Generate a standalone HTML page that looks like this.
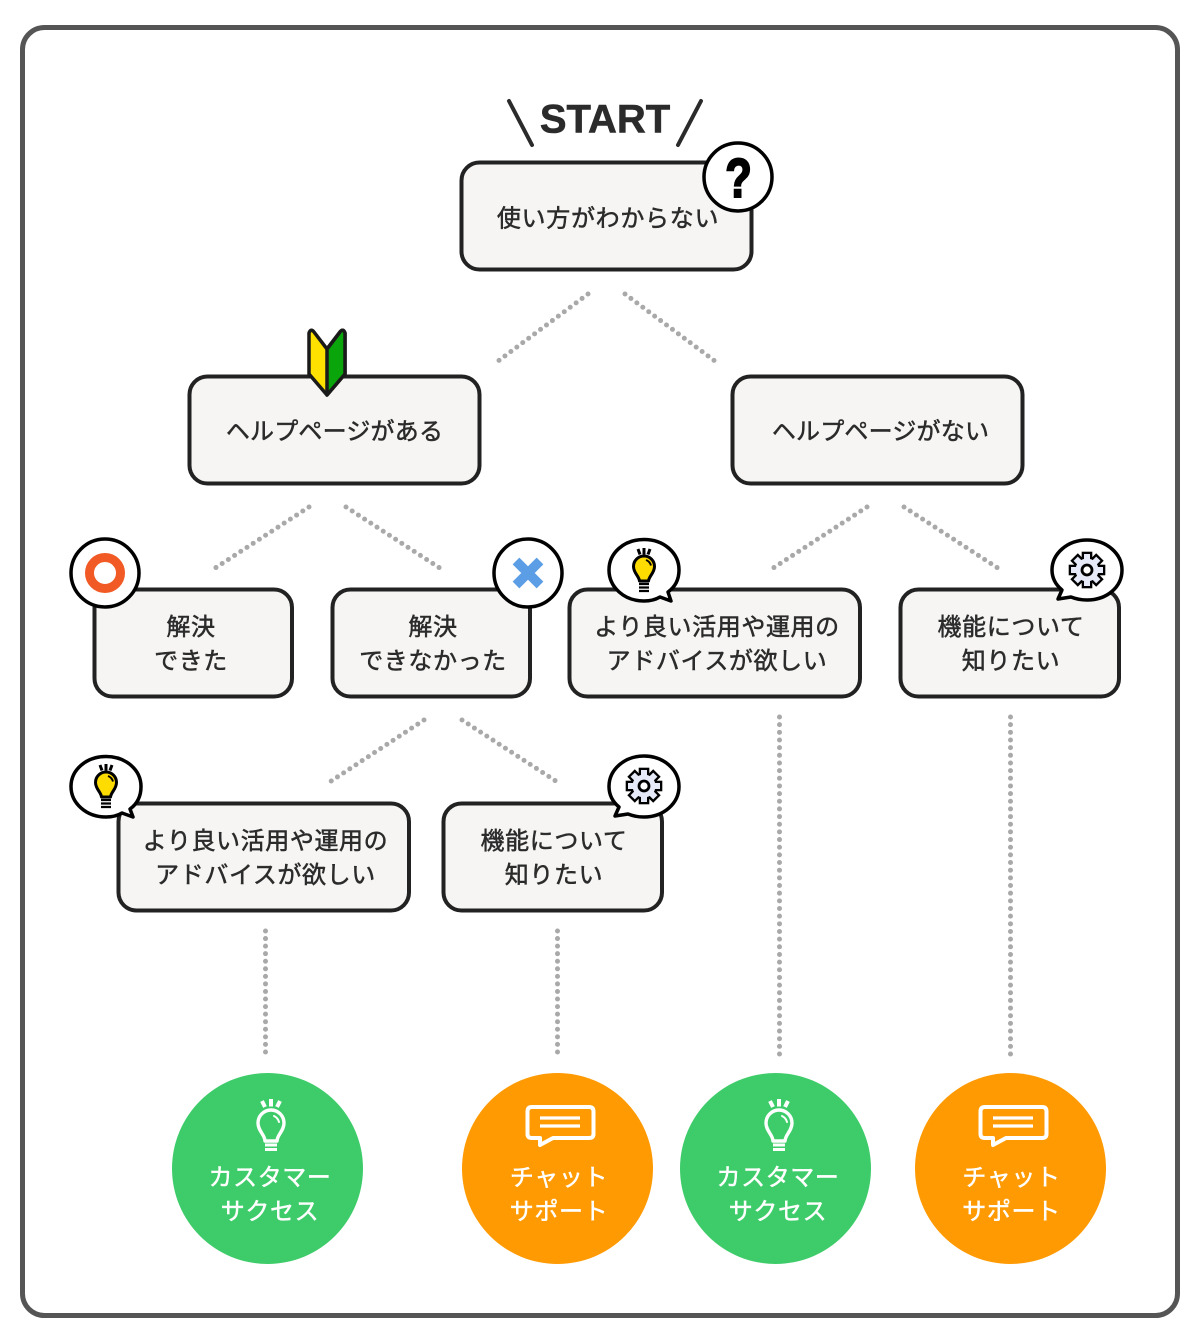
<!DOCTYPE html>
<html><head><meta charset="utf-8">
<style>
html,body{margin:0;padding:0;background:#fff;width:1200px;height:1343px;overflow:hidden}
svg{display:block}
text{font-family:"Liberation Sans","Noto Sans CJK JP",sans-serif}
.b{fill:#f6f5f3;stroke:#222;stroke-width:4}
.t{font-size:24px;fill:#2b2b2b;text-anchor:middle;letter-spacing:.6px;stroke:#2b2b2b;stroke-width:.5}
.w{font-size:24px;fill:#fff;text-anchor:middle;letter-spacing:.6px;stroke:#fff;stroke-width:.45}
.d{stroke:#a9a9a9;stroke-width:5;stroke-linecap:round;stroke-dasharray:0 7.4;fill:none}
.v1{stroke-dasharray:0 7.56}
.v2{stroke-dasharray:0 7.66}
.c{fill:#fff;stroke:#000;stroke-width:3.5}
</style></head><body>
<svg width="1200" height="1343" viewBox="0 0 1200 1343" xmlns="http://www.w3.org/2000/svg">
<defs>
<g id="bulb">
<path d="M-4.5 10 C-5 5 -10.500 2 -10.500 -4.500 A10.500 10.500 0 0 1 10.500 -4.500 C10.500 2 5 5 4.500 10 Z" fill="#ffdc00" stroke="#000" stroke-width="3" stroke-linejoin="round"/>
<path d="M2 -11 Q6 -9.500 7 -5.500" fill="none" stroke="#000" stroke-width="2"/>
<path d="M-5 13 H5 M-5 16.500 H5 M-5 20 H5" stroke="#000" stroke-width="2.200"/>
<path d="M-6 -22 L-4 -16.500 M0 -23 V-16.500 M6 -22 L4 -16.500" stroke="#000" stroke-width="3"/>
</g>
<g id="gear">
<g fill="#000" stroke="#000" stroke-width="4.600">
<circle r="11.500"/>
<rect x="-3" y="-16" width="6" height="32"/>
<rect x="-3" y="-16" width="6" height="32" transform="rotate(45)"/>
<rect x="-3" y="-16" width="6" height="32" transform="rotate(90)"/>
<rect x="-3" y="-16" width="6" height="32" transform="rotate(135)"/>
</g>
<g fill="#e6eaf8">
<circle r="11.500"/>
<rect x="-3" y="-16" width="6" height="32"/>
<rect x="-3" y="-16" width="6" height="32" transform="rotate(45)"/>
<rect x="-3" y="-16" width="6" height="32" transform="rotate(90)"/>
<rect x="-3" y="-16" width="6" height="32" transform="rotate(135)"/>
</g>
<circle r="5" fill="#fff" stroke="#000" stroke-width="2.800"/>
</g>
<g id="wbulb" fill="none" stroke="#fff">
<path d="M-6 13 C-6 7 -13 3 -13 -5 A13 13 0 0 1 13 -5 C13 3 6 7 6 13 Z" stroke-width="3.400" stroke-linejoin="round"/>
<path d="M3 -12 Q7 -10 8 -6" stroke-width="2" stroke-linecap="round"/>
<path d="M-6 17 H6 M-6 21.500 H6" stroke-width="3"/>
<path d="M-9 -27 L-6 -21 M0 -29 V-21.500 M9 -27 L6 -21" stroke-width="4"/>
</g>
<g id="chat">
<path d="M5 -16 H62 Q66.500 -16 66.500 -11.500 V11 Q66.500 15 62 15 H26 L13 22 V15 H5 Q0.500 15 0.500 11 V-11.500 Q0.500 -16 5 -16 Z" fill="none" stroke="#fff" stroke-width="4" stroke-linejoin="round"/>
<path d="M13 -5 H53 M13 3 H53" stroke="#fff" stroke-width="3.200"/>
</g>
</defs>

<rect x="22.500" y="27.500" width="1155" height="1288" rx="22" fill="#fff" stroke="#555" stroke-width="5"/>

<!-- connectors -->
<path class="d" d="M588 294 L497.500 361.500"/>
<path class="d" d="M625 294 L715.500 361.500"/>
<path class="d" d="M309 507 L214.500 568.500"/>
<path class="d" d="M346 507 L440.500 568.500"/>
<path class="d" d="M867 507 L772.500 568.500"/>
<path class="d" d="M904 507 L998.500 568.500"/>
<path class="d" d="M424 720 L330.500 781.500"/>
<path class="d" d="M462 720 L556.500 781.500"/>
<path class="d v1" d="M265.500 931 V1052.500"/>
<path class="d v1" d="M557.500 931 V1052.500"/>
<path class="d v2" d="M779.500 717 V1054.500"/>
<path class="d v2" d="M1010.500 717 V1054.500"/>

<!-- START -->
<path d="M509 101 L532 145 M701 101 L678 145" stroke="#2b2b2b" stroke-width="4" stroke-linecap="round"/>
<text x="605" y="132.500" text-anchor="middle" font-size="40" font-weight="700" fill="#2b2b2b" stroke="#2b2b2b" stroke-width=".6">START</text>

<!-- boxes -->
<rect class="b" x="461.500" y="162.500" width="290" height="107" rx="18"/>
<rect class="b" x="189.500" y="376.500" width="290" height="107" rx="18"/>
<rect class="b" x="732.500" y="376.500" width="290" height="107" rx="18"/>
<rect class="b" x="94.500" y="589.500" width="197.500" height="107" rx="18"/>
<rect class="b" x="332.500" y="589.500" width="197.500" height="107" rx="18"/>
<rect class="b" x="569.500" y="589.500" width="290.500" height="107" rx="18"/>
<rect class="b" x="900.500" y="589.500" width="218.500" height="107" rx="18"/>
<rect class="b" x="118.500" y="803.500" width="290.500" height="107" rx="18"/>
<rect class="b" x="443.500" y="803.500" width="218.500" height="107" rx="18"/>

<!-- box labels -->
<text class="t" x="608" y="226.500" style="letter-spacing:.7px">使い方がわからない</text>
<text class="t" x="334.500" y="439.500" style="letter-spacing:.2px">ヘルプページがある</text>
<text class="t" x="880.500" y="439.500" style="letter-spacing:.2px">ヘルプページがない</text>
<text class="t" x="191" y="635">解決</text>
<text class="t" x="191" y="669">できた</text>
<text class="t" x="433" y="635">解決</text>
<text class="t" x="433" y="669">できなかった</text>
<text class="t" x="717" y="635">より良い活用や運用の</text>
<text class="t" x="717" y="669">アドバイスが欲しい</text>
<text class="t" x="1011" y="635">機能について</text>
<text class="t" x="1011" y="669">知りたい</text>
<text class="t" x="265.500" y="849">より良い活用や運用の</text>
<text class="t" x="265.500" y="883">アドバイスが欲しい</text>
<text class="t" x="554" y="849">機能について</text>
<text class="t" x="554" y="883">知りたい</text>

<!-- badges -->
<circle class="c" cx="738" cy="177" r="34"/>
<text transform="translate(738.500 197) scale(.82 1.04)" text-anchor="middle" font-size="53" font-weight="700" fill="#000" stroke="#000" stroke-width="2">?</text>

<path d="M309 333 Q311 328 314 332 L327 349 L340 332 Q343 328 345 333 V374 L327 395 L309 374 Z" fill="#ffe100" stroke="#1a1a1a" stroke-width="3.500" stroke-linejoin="round"/>
<path d="M327 349 L340 332 Q343 328 345 333 V374 L327 395 Z" fill="#0aa50a" stroke="#1a1a1a" stroke-width="3.500" stroke-linejoin="round"/>

<circle class="c" cx="105" cy="573" r="34"/>
<circle cx="105" cy="573" r="15.500" fill="none" stroke="#f15a24" stroke-width="9"/>

<circle class="c" cx="528" cy="573" r="34"/>
<path d="M516 561 L540 585 M540 561 L516 585" stroke="#5b9ee6" stroke-width="9.500"/>

<!-- bubble: bulb row 1 -->
<path class="c" d="M644 539.500 C664 539.500 679 553 679 570 C679 580 675 587 668 592 L671 601 L660 597 C655 600 650 601 644 601 C624 601 609 587 609 570 C609 553 624 539.500 644 539.500 Z" stroke-linejoin="round"/>
<use href="#bulb" x="644" y="571"/>

<!-- bubble: gear row 1 -->
<path class="c" d="M1087 540 C1107 540 1122 554 1122 570 C1122 587 1107 600 1087 600 C1081 600 1076 599 1071 597 L1058 599 L1062 590 C1056 585 1052 578 1052 570 C1052 554 1067 540 1087 540 Z" stroke-linejoin="round"/>
<use href="#gear" x="1087" y="570"/>

<!-- bubble: bulb row 2 -->
<path class="c" d="M106 756.500 C126 756.500 141 770 141 786.500 C141 797 137 804 130 809 L133 817 L122 813 C117 816 112 817 106 817 C86 817 71 803 71 786.500 C71 770 86 756.500 106 756.500 Z" stroke-linejoin="round"/>
<use href="#bulb" x="106" y="787"/>

<!-- bubble: gear row 2 -->
<path class="c" d="M644 756 C664 756 679 770 679 786.500 C679 803 664 817 644 817 C638 817 633 816 628 814 L615 816 L619 807 C613 802 609 795 609 786.500 C609 770 624 756 644 756 Z" stroke-linejoin="round"/>
<use href="#gear" x="644" y="786"/>

<!-- circles -->
<circle cx="267.500" cy="1168.500" r="95.500" fill="#3ecc6a"/>
<circle cx="557.500" cy="1168.500" r="95.500" fill="#ff9a03"/>
<circle cx="775.500" cy="1168.500" r="95.500" fill="#3ecc6a"/>
<circle cx="1010.500" cy="1168.500" r="95.500" fill="#ff9a03"/>

<use href="#wbulb" x="271" y="1128"/>
<use href="#wbulb" x="779" y="1128"/>
<use href="#chat" x="527" y="1123"/>
<use href="#chat" x="980" y="1123"/>

<text class="w" x="270" y="1185.500">カスタマー</text>
<text class="w" x="270" y="1219.500">サクセス</text>
<text class="w" x="559" y="1185.500">チャット</text>
<text class="w" x="559" y="1219.500">サポート</text>
<text class="w" x="778" y="1185.500">カスタマー</text>
<text class="w" x="778" y="1219.500">サクセス</text>
<text class="w" x="1011.500" y="1185.500">チャット</text>
<text class="w" x="1011.500" y="1219.500">サポート</text>
</svg>
</body></html>
